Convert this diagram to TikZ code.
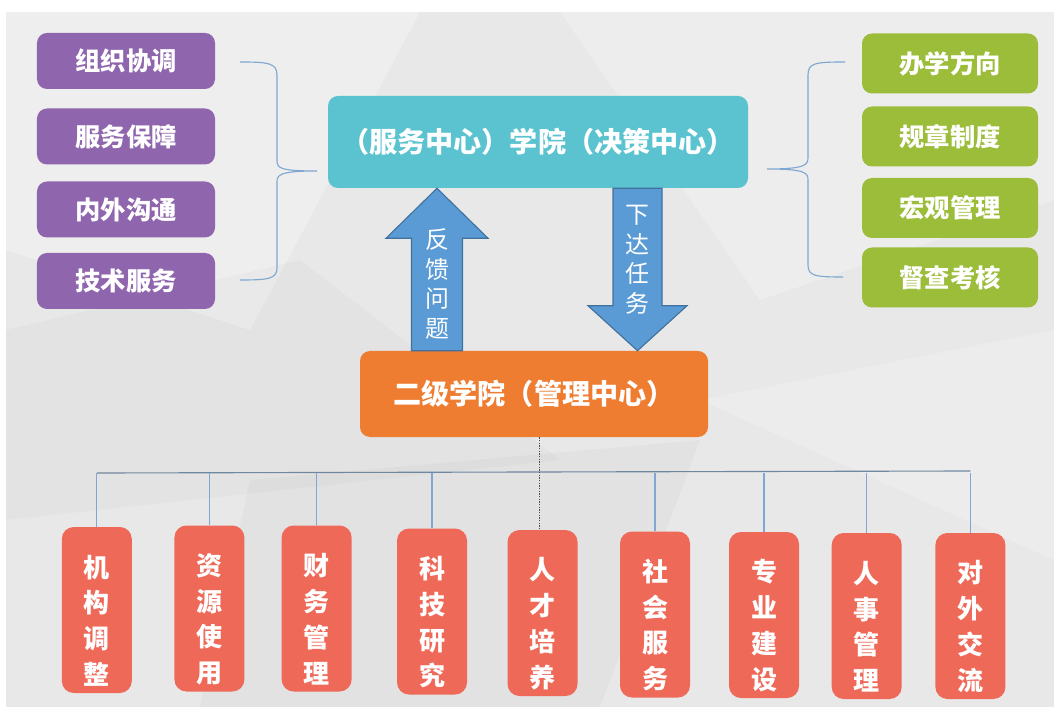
\documentclass[tikz,border=0pt]{standalone}
\usepackage{fontspec}
\newfontfamily\cjk{Noto Sans CJK SC}
\usetikzlibrary{calc}

\definecolor{bgray}{HTML}{E8E8E8}
\definecolor{bpurple}{HTML}{8F66AD}
\definecolor{bgreen}{HTML}{9BBD3A}
\definecolor{bteal}{HTML}{5BC3D0}
\definecolor{borange}{HTML}{EE7D32}
\definecolor{bred}{HTML}{EF6959}
\definecolor{barrow}{HTML}{5B9BD5}
\definecolor{barrowline}{HTML}{41719C}
\definecolor{bline}{HTML}{7FA7D2}
\definecolor{bbus}{HTML}{6F879F}

% strut that pushes the vertical task text a little down
\newcommand{\tasktop}{\rule{0pt}{31pt}}

\begin{document}
\begin{tikzpicture}[
    x=0.25mm, y=-0.25mm,
    box/.style={rounded corners=2.5mm, text=white, font=\cjk\bfseries\fontsize{18}{22}\selectfont, align=center, inner sep=0pt},
    leftbox/.style={box, fill=bpurple, minimum width=44.5mm, minimum height=14mm},
    rightbox/.style={box, fill=bgreen, minimum width=44mm, minimum height=15mm},
    taskbox/.style={box, rounded corners=3mm, fill=bred, minimum width=17.5mm, minimum height=41.5mm,
        font=\cjk\bfseries\fontsize{18.5}{25.5}\selectfont},
    brace/.style={draw=bline, line width=0.8pt},
    bus/.style={draw=bline, line width=0.8pt},
    blockarrow/.style={fill=barrow, draw=barrowline, line width=0.8pt},
    arrowtext/.style={text=white, font=\cjk\fontsize{17}{21}\selectfont, align=center, inner sep=0pt}]

\useasboundingbox (0,0) rectangle (1054,713);

% background
\fill[bgray] (6,12) rectangle (1054,707);
\fill[white, opacity=0.3] (6,12) -- (420,12) -- (250,330) -- (6,250) -- cycle;
\fill[white, opacity=0.25] (560,12) -- (1054,12) -- (1054,200) -- (760,300) -- cycle;
\fill[black, opacity=0.02] (6,330) -- (300,260) -- (560,460) -- (6,520) -- cycle;
\fill[white, opacity=0.2] (700,400) -- (1054,330) -- (1054,560) -- cycle;
\fill[black, opacity=0.025] (250,480) -- (700,440) -- (600,707) -- (200,707) -- cycle;

% top centre and middle
\node[box, fill=bteal, minimum width=105mm, minimum height=23mm, font=\cjk\bfseries\fontsize{20}{22}\selectfont] (college) at (538,142) {（服务中心）学院（决策中心）};
\node[box, fill=borange, minimum width=87mm, minimum height=21.5mm, font=\cjk\bfseries\fontsize{20}{22}\selectfont] (second) at (534,394) {二级学院（管理中心）};

% left group
\node[leftbox] (org) at (126,61) {组织协调};
\node[leftbox] (service) at (126,136.5) {服务保障};
\node[leftbox] (comm) at (126,209.5) {内外沟通};
\node[leftbox] (tech) at (126,281) {技术服务};

% right group
\node[rightbox] (dir) at (950,63.5) {办学方向};
\node[rightbox] (rules) at (950,136.5) {规章制度};
\node[rightbox] (macro) at (950,208) {宏观管理};
\node[rightbox] (check) at (950,277.5) {督查考核};

% braces
\coordinate (ltip) at (317,171);
\coordinate (rtip) at (767,169);
\draw[brace] (240,62) .. controls (268,62) and (277,63) .. (277,75) -- (277,160)
    .. controls (277,168) and (279,171) .. (ltip)
    (277,182) .. controls (277,175) and (279,171) .. (ltip)
    (277,182) -- (277,268) .. controls (277,279) and (268,280) .. (240,280);
\draw[brace] (845,62) .. controls (815,62) and (808,63) .. (808,75) -- (808,157)
    .. controls (808,165) and (806,169) .. (rtip)
    (808,180) .. controls (808,173) and (806,169) .. (rtip)
    (808,180) -- (808,265) .. controls (808,276) and (815,277) .. (843,277);

% block arrows
\coordinate (upbase) at (437,0 |- second.north);
\coordinate (uptip) at (437,0 |- college.south);
\coordinate (downbase) at (637.5,0 |- college.south);
\coordinate (downtip) at (637.5,0 |- second.north);
\draw[blockarrow] ($(upbase)+(-25.5,0)$) -- ($(uptip)+(-25.5,50)$) -- ($(uptip)+(-51,50)$)
    -- (uptip) -- ($(uptip)+(51,50)$) -- ($(uptip)+(25.5,50)$) -- ($(upbase)+(25.5,0)$) -- cycle;
\draw[blockarrow] ($(downbase)+(-24.5,0)$) -- ($(downtip)+(-24.5,-45)$) -- ($(downtip)+(-49.5,-45)$)
    -- (downtip) -- ($(downtip)+(49.5,-45)$) -- ($(downtip)+(24.5,-45)$) -- ($(downbase)+(24.5,0)$) -- cycle;
\node[arrowtext] (feedback) at (437,284) {反\\馈\\问\\题};
\node[arrowtext] (assign) at (637.5,260) {下\\达\\任\\务};

% bottom row
\node[taskbox] (t1) at (96.8,610) {\tasktop 机\\构\\调\\整};
\node[taskbox] (t2) at (209.4,608.5) {\tasktop 资\\源\\使\\用};
\node[taskbox] (t3) at (316.6,608.5) {\tasktop 财\\务\\管\\理};
\node[taskbox] (t4) at (432,611.5) {\tasktop 科\\技\\研\\究};
\node[taskbox] (t5) at (542.5,613) {\tasktop 人\\才\\培\\养};
\node[taskbox] (t6) at (655,614.5) {\tasktop 社\\会\\服\\务};
\node[taskbox] (t7) at (764,615) {\tasktop 专\\业\\建\\设};
\node[taskbox] (t8) at (866.7,616) {\tasktop 人\\事\\管\\理};
\node[taskbox] (t9) at (970.4,616) {\tasktop 对\\外\\交\\流};

% bus lines
\coordinate (busleft) at (96.8,473);
\coordinate (busright) at (970.4,471);
\draw[draw=bbus, line width=0.8pt] (busleft) -- (busright);
\foreach \n in {1,2,3,4,6,7,8,9}
    \draw[bus] (t\n.north) -- (t\n.north |- busleft);
\draw[densely dotted, draw=black!70, line width=0.9pt] ($(t5.north |- second.south)+(-3,0)$) -- ($(t5.north)+(-3,0)$);
\end{tikzpicture}
\end{document}
